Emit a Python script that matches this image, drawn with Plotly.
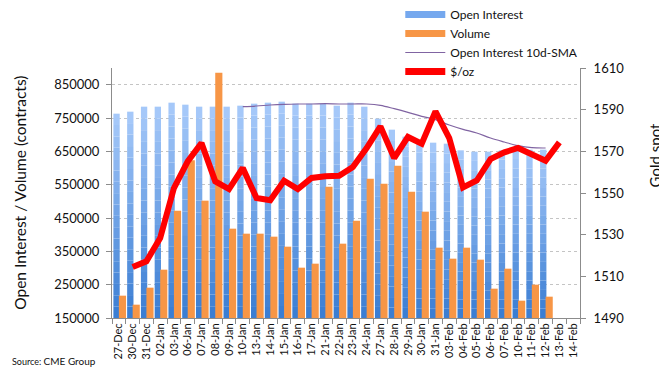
import plotly.graph_objects as go

dates = ["27-Dec", "30-Dec", "31-Dec", "02-Jan", "03-Jan", "06-Jan", "07-Jan", "08-Jan", "09-Jan",
         "10-Jan", "13-Jan", "14-Jan", "15-Jan", "16-Jan", "17-Jan", "21-Jan", "22-Jan", "23-Jan",
         "24-Jan", "27-Jan", "28-Jan", "29-Jan", "30-Jan", "31-Jan", "03-Feb", "04-Feb", "05-Feb",
         "06-Feb", "07-Feb", "10-Feb", "11-Feb", "12-Feb", "13-Feb", "14-Feb"]

open_interest = [763000, 769000, 784000, 784000, 796000, 790000, 784000, 784000, 784000,
                 787000, 793000, 796000, 799000, 793000, 793000, 793000, 787000, 796000,
                 784000, 748000, 715000, 694000, 676000, 676000, 673000, 653000, 649000,
                 649000, 653000, 655000, 655000, 655000, None, None]

volume = [217000, 190000, 241000, 295000, 472000, 623000, 502000, 886000, 418000,
          403000, 403000, 394000, 364000, 301000, 313000, 544000, 373000, 442000,
          568000, 553000, 607000, 529000, 469000, 361000, 328000, 361000, 325000,
          238000, 298000, 202000, 250000, 214000, None, None]

oi_sma = [None, None, None, None, None, None, None, None, None,
          784000, 786000, 789000, 791000, 792000, 792000, 793000, 792000, 792000,
          792000, 788000, 778000, 767000, 755000, 745000, 729000, 716000, 705000,
          690000, 678000, 667000, 661000, 660000, None, None]

gold = [None, 1514.5, 1517.2, 1528.4, 1552.4, 1565.2, 1574.0, 1555.6, 1551.9,
        1562.0, 1547.6, 1546.5, 1555.9, 1551.9, 1557.2, 1558.0, 1558.3, 1562.5,
        1571.6, 1582.0, 1566.8, 1576.9, 1573.7, 1589.2, 1576.4, 1552.7, 1556.0,
        1566.3, 1569.5, 1571.6, 1568.4, 1565.5, 1574.3, None]

left_ticks = [150000, 250000, 350000, 450000, 550000, 650000, 750000, 850000]
right_ticks = [1490, 1510, 1530, 1550, 1570, 1590, 1610]

FONT = "Lato, 'DejaVu Sans', sans-serif"
AXIS_MIN = 150000
N_SEG = 18
top_rgb = (168, 202, 250)
bot_rgb = (56, 124, 210)

fig = go.Figure()

# Open Interest bars with vertical gradient (stacked slices of each bar)
for k in range(N_SEG):
    t = (k + 0.5) / N_SEG
    col = "rgb({},{},{})".format(*[round(b + (a - b) * t) for a, b in zip(top_rgb, bot_rgb)])
    bases = [None if v is None else AXIS_MIN + (v - AXIS_MIN) * k / N_SEG for v in open_interest]
    heights = [None if v is None else (v - AXIS_MIN) / N_SEG for v in open_interest]
    fig.add_trace(go.Bar(x=dates, y=heights, base=bases, offset=-0.40, width=0.46,
                         marker=dict(color=col, line=dict(width=0)),
                         showlegend=False, hoverinfo="skip"))

fig.add_trace(go.Bar(x=dates, y=[None if v is None else v - AXIS_MIN for v in volume],
                     base=AXIS_MIN, offset=0.0, width=0.52,
                     marker=dict(color="#f79646", line=dict(width=0)),
                     showlegend=False, name="Volume"))

fig.add_trace(go.Scatter(x=dates, y=oi_sma, mode="lines", line=dict(color="#8064a2", width=1.2),
                         showlegend=False, name="Open Interest 10d-SMA", line_shape="spline"))

fig.add_trace(go.Scatter(x=dates, y=gold, mode="lines", yaxis="y2",
                         line=dict(color="#ff0000", width=6), showlegend=False, name="$/oz"))

# legend entries
fig.add_trace(go.Scatter(x=[None], y=[None], mode="lines", name="Open Interest",
                         line=dict(color="#75a8ee", width=7)))
fig.add_trace(go.Scatter(x=[None], y=[None], mode="lines", name="Volume",
                         line=dict(color="#f79646", width=7)))
fig.add_trace(go.Scatter(x=[None], y=[None], mode="lines", name="Open Interest 10d-SMA",
                         line=dict(color="#8064a2", width=1.2)))
fig.add_trace(go.Scatter(x=[None], y=[None], mode="lines", name="$/oz",
                         line=dict(color="#ff0000", width=7)))

# page body has an 8px margin, so the figure is shifted; sizes compensate for it
fig.update_layout(
    width=659, height=371,
    margin=dict(l=104, r=87, t=60, b=61, autoexpand=False),
    paper_bgcolor="white", plot_bgcolor="white",
    font=dict(family=FONT, size=12, color="#111"),
    barmode="overlay",
    showlegend=True,
    legend=dict(x=0.616, y=1.272, xanchor="left", yanchor="top", bgcolor="rgba(0,0,0,0)",
                font=dict(size=12, family=FONT), itemwidth=40, tracegroupgap=0),
    xaxis=dict(type="category", categoryorder="array", categoryarray=dates,
               range=[-0.5, len(dates) - 0.5], automargin=False,
               showline=True, linecolor="#8c8c8c", linewidth=1, ticks="outside", ticklen=5,
               tickcolor="#8c8c8c", tickson="boundaries", tickangle=-90,
               tickfont=dict(size=11, family=FONT), showgrid=False),
    yaxis=dict(range=[150000, 900000], tickvals=left_ticks, tickformat="d", automargin=False,
               showline=True, linecolor="#8c8c8c", linewidth=1, ticks="outside", ticklen=5,
               tickcolor="#8c8c8c", tickfont=dict(size=13, family=FONT), ticklabelstandoff=4,
               showgrid=True, gridcolor="#c4c4c4", griddash="3px,3px", gridwidth=1,
               zeroline=False),
    yaxis2=dict(range=[1490, 1610], tickvals=right_ticks, overlaying="y", side="right",
                automargin=False,
                showline=True, linecolor="#8c8c8c", linewidth=1, ticks="outside", ticklen=5,
                tickcolor="#8c8c8c", tickfont=dict(size=13, family=FONT), showgrid=False,
                ticklabelstandoff=5, zeroline=False),
    annotations=[
        dict(text="Open Interest / Volume (contracts)", textangle=-90, xref="paper", yref="paper",
             x=-0.197, y=0.5, xanchor="center", yanchor="middle", showarrow=False,
             font=dict(size=15.5, family=FONT)),
        dict(text="Gold spot", textangle=-90, xref="paper", yref="paper",
             x=1.16, y=0.65, xanchor="center", yanchor="middle", showarrow=False,
             font=dict(size=15, family=FONT)),
        dict(text="<span style='font-size:9px'>Source: </span>CME Group", xref="paper", yref="paper",
             x=-0.217, y=-0.17, xanchor="left", yanchor="middle", showarrow=False,
             font=dict(size=10, family=FONT)),
    ],
)

fig.write_html("out.html")
